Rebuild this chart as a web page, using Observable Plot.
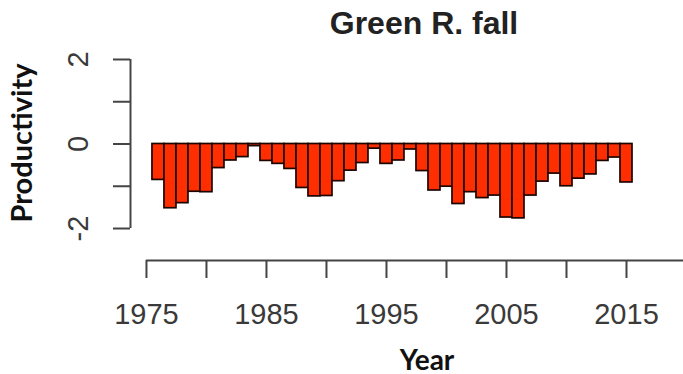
<!DOCTYPE html>
<html>
<head>
<meta charset="utf-8">
<script src="https://cdn.jsdelivr.net/npm/d3@7"></script>
<script src="https://cdn.jsdelivr.net/npm/@observablehq/plot@0.6"></script>
<style>
  html, body { margin: 0; padding: 0; background: #fff; overflow: hidden; }
</style>
</head>
<body>
<div id="chart"></div>
<script>
// Green River fall run: annual productivity index
const title = "Green R. fall";
const xTitle = "Year";
const yTitle = "Productivity";

const years = [
  1976, 1977, 1978, 1979, 1980, 1981, 1982, 1983, 1984, 1985,
  1986, 1987, 1988, 1989, 1990, 1991, 1992, 1993, 1994, 1995,
  1996, 1997, 1998, 1999, 2000, 2001, 2002, 2003, 2004, 2005,
  2006, 2007, 2008, 2009, 2010, 2011, 2012, 2013, 2014, 2015
];
const productivity = [
  -0.85, -1.52, -1.40, -1.13, -1.14, -0.57, -0.39, -0.31, -0.05, -0.40,
  -0.47, -0.59, -1.04, -1.24, -1.23, -0.88, -0.63, -0.45, -0.11, -0.47,
  -0.39, -0.13, -0.64, -1.10, -1.01, -1.42, -1.14, -1.28, -1.22, -1.74,
  -1.76, -1.22, -0.89, -0.70, -1.00, -0.82, -0.72, -0.40, -0.32, -0.91
];

const xTicks = [1975, 1980, 1985, 1990, 1995, 2000, 2005, 2010, 2015, 2020];
const xTickLabels = [1975, 1985, 1995, 2005, 2015];
const yTicks = [-2, -1, 0, 1, 2];
const yTickLabels = [-2, 0, 2];

const rows = years.map((year, i) => ({year, value: productivity[i]}));

// plotting region, with a little padding around the axes (base-graphics style)
const xDomain = [1973.67, 2019.75];
const yDomain = [-2.757, 2.757];

const axisInk = "#444";
const labelInk = "#3a3a3a";

const chart = Plot.plot({
  width: 683,
  height: 374,
  marginLeft: 130,
  marginRight: 0,
  marginTop: 27,
  marginBottom: 114,
  style: {fontFamily: "'Liberation Sans', Arial, sans-serif", background: "#fff", overflow: "hidden"},
  x: {domain: xDomain},
  y: {domain: yDomain},
  marks: [
    Plot.rect(rows, {
      x1: d => d.year - 0.5,
      x2: d => d.year + 0.5,
      y1: d => 0,
      y2: "value",
      fill: "#ff2e00",
      stroke: "#1c0500",
      strokeWidth: 1.7
    }),
    // axis lines spanning the tick range
    Plot.ruleX([xDomain[0]], {y1: yTicks[0], y2: yTicks[yTicks.length - 1], stroke: axisInk, strokeWidth: 2}),
    Plot.ruleY([yDomain[0]], {x1: xTicks[0], x2: xTicks[xTicks.length - 1], stroke: axisInk, strokeWidth: 2}),
    Plot.axisX({
      anchor: "bottom",
      ticks: xTicks,
      tickSize: 18,
      tickPadding: 25,
      tickFormat: d => xTickLabels.includes(d) ? String(d) : "",
      fontSize: 29,
      stroke: axisInk,
      strokeWidth: 2,
      fill: labelInk,
      label: null
    }),
    Plot.axisY({
      anchor: "left",
      ticks: yTicks,
      tickSize: 17,
      tickPadding: 26,
      tickRotate: -90,
      tickFormat: d => yTickLabels.includes(d) ? String(d) : "",
      fontSize: 29,
      stroke: axisInk,
      strokeWidth: 2,
      fill: labelInk,
      label: null
    }),
    Plot.text([title], {
      frameAnchor: "top", lineAnchor: "bottom", dx: 17, dy: 6,
      fontSize: 32, fontWeight: "bold", fill: "#222"
    }),
    Plot.text([yTitle], {
      frameAnchor: "left", textAnchor: "middle", rotate: -90, dx: -108, dy: -1,
      fontSize: 29, fontWeight: "bold", fontFamily: "Lato, 'Open Sans', sans-serif", fill: "#111"
    }),
    Plot.text([xTitle], {
      frameAnchor: "bottom", lineAnchor: "bottom", dx: 20, dy: 109,
      fontSize: 28, fontWeight: "bold", fontFamily: "Lato, 'Open Sans', sans-serif", fill: "#111"
    })
  ]
});

document.getElementById("chart").appendChild(chart);
</script>
</body>
</html>
